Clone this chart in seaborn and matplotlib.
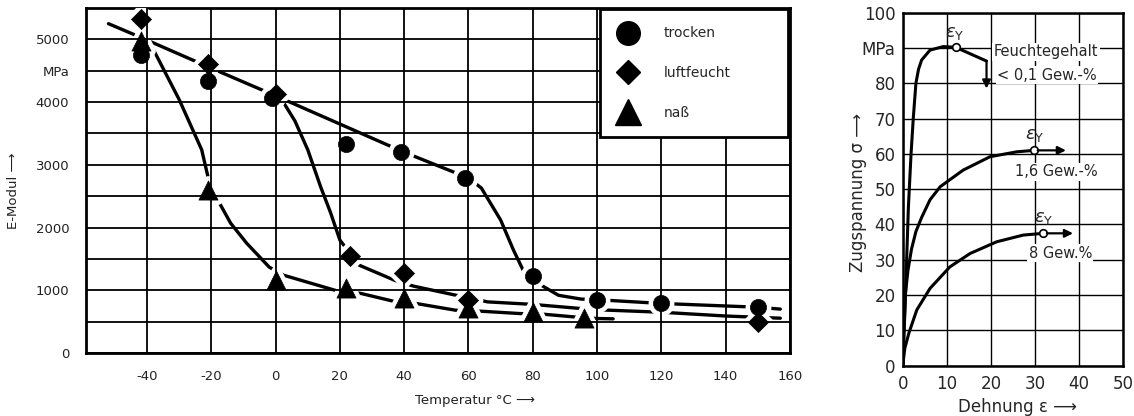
import matplotlib
matplotlib.use("Agg")
import matplotlib.pyplot as plt
from matplotlib.lines import Line2D
import seaborn as sns

# E-Modul (MPa) over Temperatur (°C), measured points
trocken_temp = [-42, -21, -1, 22, 39, 59, 80, 100, 120, 150]
trocken_emod = [4750, 4340, 4060, 3330, 3200, 2790, 1225, 850, 790, 735]
luft_temp = [-42, -21, 0, 23, 40, 60, 150]
luft_emod = [5320, 4610, 4130, 1545, 1275, 840, 495]
nass_temp = [-42, -21, 0, 22, 40, 60, 80, 96]
nass_emod = [4970, 2600, 1160, 1030, 870, 720, 660, 565]

# hand drawn trend curves
trocken_curve_t = [-52, -41, -20, 0, 40, 60, 64, 70, 74, 77, 80, 83, 88, 95, 100, 120, 150, 157]
trocken_curve_e = [5250, 5010, 4540, 4100, 3200, 2790, 2630, 2120, 1640, 1320, 1225, 1070, 920, 860, 850, 790, 730, 700]
luft_curve_t = [0, 2.5, 6, 10, 14, 17, 20, 26, 37, 43, 58, 66, 80, 95, 100, 120, 140, 157]
luft_curve_e = [4100, 3990, 3700, 3240, 2650, 2250, 1800, 1400, 1160, 1065, 900, 815, 775, 709, 690, 650, 590, 555]
nass_curve_t = [-41, -38, -30, -23, -21, -18, -14, -9, -2, 2.5, 18.5, 26.5, 37.5, 42.5, 56, 64, 76, 83, 93, 100, 105]
nass_curve_e = [4950, 4835, 4040, 3240, 2800, 2440, 2070, 1750, 1370, 1240, 1000, 950, 815, 800, 682, 666, 629, 620, 575, 550, 545]

temp_ticks = [-40, -20, 0, 20, 40, 60, 80, 100, 120, 140, 160]
temp_labels = ["-40", "-20", "0", "20", "40", "60", "80", "100", "120", "140", "160"]
emod_ticks = [0, 500, 1000, 1500, 2000, 2500, 3000, 3500, 4000, 4500, 5000]
emod_labels = ["0", "", "1000", "", "2000", "", "3000", "", "4000", "MPa", "5000"]

# Zugspannung (MPa) over Dehnung (%) for three moisture contents
dehnung_01 = [0, 0.5, 0.9, 1.3, 1.9, 2.4, 3.0, 3.6, 4.3, 6.2, 9.2, 12.0, 19.0]
spannung_01 = [0, 15, 30, 45, 60, 70, 80, 84, 86.6, 89.4, 90.4, 90.2, 86.3]
dehnung_16 = [0, 0.3, 0.6, 1.2, 2.0, 3.0, 4.3, 6.2, 8.5, 13.7, 19.8, 25.9, 29.8]
spannung_16 = [0, 10, 20, 27, 33, 38, 42, 47, 50.7, 55.4, 59.2, 60.6, 61]
dehnung_8 = [0, 0.5, 1.4, 3.2, 6.2, 10.7, 15.3, 21.3, 27.3, 31.9]
spannung_8 = [0, 5, 9.2, 15.8, 21.9, 28, 31.8, 35.1, 37, 37.5]
yield_dehnung = [12.0, 29.8, 31.9]
yield_spannung = [90.2, 61, 37.5]

zug_ticks = [0, 10, 20, 30, 40, 50, 60, 70, 80, 90, 100]
zug_labels = ["0", "10", "20", "30", "40", "50", "60", "70", "80", "MPa", "100"]
dehn_ticks = [0, 10, 20, 30, 40, 50]

sns.set_style("white")
plt.rcParams["font.family"] = ["DejaVu Sans"]

fig = plt.figure(figsize=(11.34, 4.16), dpi=100)
ax = fig.add_axes([0.0758, 0.1514, 0.6208, 0.8294])
ax2 = fig.add_axes([0.796, 0.1209, 0.1946, 0.8486])

# ---- left chart: E-Modul ----
for ct, ce in [(trocken_curve_t, trocken_curve_e), (luft_curve_t, luft_curve_e), (nass_curve_t, nass_curve_e)]:
    sns.lineplot(x=ct, y=ce, ax=ax, color="black", linewidth=2.4, sort=False, estimator=None, zorder=2)

series = [
    (trocken_temp, trocken_emod, "o", 135),
    (luft_temp, luft_emod, "D", 105),
    (nass_temp, nass_emod, "^", 190),
]
# white halo first, so the curves get interrupted at the points
for t, e, m, s in series:
    sns.scatterplot(x=t, y=e, ax=ax, marker=m, s=s, color="white", edgecolor="white", linewidth=7, zorder=3)
for t, e, m, s in series:
    sns.scatterplot(x=t, y=e, ax=ax, marker=m, s=s, color="black", edgecolor="black", linewidth=0.5, zorder=4)

ax.set_xlim(-59, 160)
ax.set_ylim(0, 5500)
ax.set_xticks(temp_ticks)
ax.set_xticklabels(temp_labels)
ax.set_yticks(emod_ticks)
ax.set_yticklabels(emod_labels)
ax.grid(True, color="black", linewidth=1.3)
ax.xaxis.set_zorder(3.5)
ax.yaxis.set_zorder(3.5)
ax.tick_params(length=0, labelsize=9.5, pad=12, labelcolor="#222222")
for sp in ax.spines.values():
    sp.set_color("black")
    sp.set_linewidth(2)

ax.set_xlabel("Temperatur °C ⟶", fontsize=9.5, color="#222222")
ax.xaxis.set_label_coords(0.553, -0.12)
ax.set_ylabel("E-Modul ⟶", fontsize=9.5, color="#222222")
ax.yaxis.set_label_coords(-0.094, 0.47)

handles = [
    Line2D([], [], marker="o", color="black", linestyle="none", markersize=17),
    Line2D([], [], marker="D", color="black", linestyle="none", markersize=12),
    Line2D([], [], marker="^", color="black", linestyle="none", markersize=19),
]
leg = ax.legend(handles, ["trocken", "luftfeucht", "naß"], loc="upper left",
                bbox_to_anchor=(0.730, 0.5, 0.267, 0.497), mode="expand", borderaxespad=0,
                fontsize=10, frameon=True, fancybox=False, framealpha=1, edgecolor="black",
                borderpad=1.25, labelspacing=1.85, handlelength=1.55, handletextpad=1.8)
leg.get_frame().set_linewidth(2)
leg.set_zorder(6)

# ---- right chart: Zugspannung ----
for dx, sy in [(dehnung_01, spannung_01), (dehnung_16, spannung_16), (dehnung_8, spannung_8)]:
    sns.lineplot(x=dx, y=sy, ax=ax2, color="black", linewidth=2.2, sort=False, estimator=None, zorder=3)
sns.scatterplot(x=yield_dehnung, y=yield_spannung, ax=ax2, marker="o", s=30,
                color="white", edgecolor="black", linewidth=1.2, zorder=5)

arrow = dict(arrowstyle="-|>", color="black", lw=1.6, mutation_scale=12, shrinkA=0, shrinkB=0)
ax2.annotate("", xy=(19.0, 78.5), xytext=(19.0, 86.3), arrowprops=arrow, zorder=5)
ax2.annotate("", xy=(37.0, 61), xytext=(30.6, 61), arrowprops=arrow, zorder=5)
ax2.annotate("", xy=(38.6, 37.5), xytext=(32.7, 37.5), arrowprops=arrow, zorder=5)

eps = r"$\varepsilon_{\mathrm{Y}}$"
for xe, ye in [(11.9, 94.2), (30.0, 65.4), (31.9, 41.8)]:
    ax2.text(xe, ye, eps, fontsize=13, ha="center", va="center", zorder=6)

box = dict(facecolor="white", edgecolor="none", pad=1)
ax2.text(32.5, 88.9, "Feuchtegehalt", fontsize=10.5, ha="center", va="center", bbox=box, zorder=6)
ax2.text(32.7, 82.3, "< 0,1 Gew.-%", fontsize=10.5, ha="center", va="center", bbox=box, zorder=6)
ax2.text(34.9, 55.0, "1,6 Gew.-%", fontsize=10.5, ha="center", va="center", bbox=box, zorder=6)
ax2.text(35.7, 31.8, "8 Gew.%", fontsize=10.5, ha="center", va="center", bbox=box, zorder=6)

ax2.set_xlim(0, 50)
ax2.set_ylim(0, 100)
ax2.set_xticks(dehn_ticks)
ax2.set_yticks(zug_ticks)
ax2.set_yticklabels(zug_labels)
ax2.grid(True, color="black", linewidth=1.0)
ax2.tick_params(length=0, labelsize=12, pad=5)
ax2.tick_params(axis="x", pad=7)
for sp in ax2.spines.values():
    sp.set_color("black")
    sp.set_linewidth(1.8)

ax2.set_xlabel("Dehnung ε ⟶", fontsize=12)
ax2.xaxis.set_label_coords(0.52, -0.092)
ax2.set_ylabel("Zugspannung σ ⟶", fontsize=12)
ax2.yaxis.set_label_coords(-0.162, 0.49)

fig.savefig("out.png", dpi=100)
